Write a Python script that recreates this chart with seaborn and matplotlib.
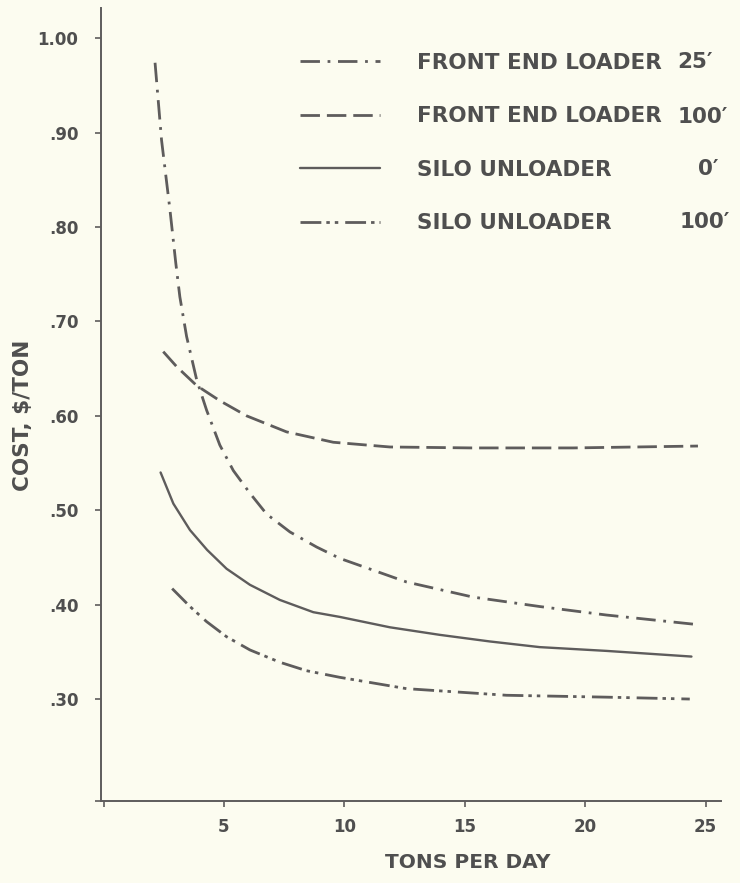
import numpy as np
import pandas as pd
import matplotlib
matplotlib.use("Agg")
import matplotlib.pyplot as plt
import seaborn as sns

# ---------------- data ----------------
fel25_x = [2.14, 2.41, 2.76, 3.00, 3.17, 3.45, 3.87, 4.28, 4.83, 5.39, 6.08, 6.77,
           7.74, 8.85, 9.81, 12.58, 15.34, 18.11, 20.88, 24.61]
fel25_y = [0.974, 0.892, 0.818, 0.762, 0.726, 0.684, 0.638, 0.606, 0.569, 0.542, 0.518, 0.496,
           0.477, 0.461, 0.449, 0.424, 0.408, 0.398, 0.389, 0.379]

fel100_x = [2.48, 3.04, 3.87, 4.83, 5.94, 7.60, 9.54, 11.89, 15.3, 19.5, 24.68]
fel100_y = [0.668, 0.652, 0.632, 0.616, 0.600, 0.583, 0.572, 0.567, 0.566, 0.566, 0.568]

su0_x = [2.37, 2.90, 3.59, 4.30, 5.11, 6.08, 7.32, 8.71, 9.81, 11.89, 13.96, 16.04,
         18.11, 20.88, 24.41]
su0_y = [0.540, 0.507, 0.479, 0.458, 0.438, 0.421, 0.405, 0.392, 0.387, 0.376, 0.368, 0.361,
         0.355, 0.351, 0.345]

su100_x = [2.85, 3.59, 4.28, 5.11, 6.08, 7.32, 8.43, 9.81, 12.58, 16.73, 20.88, 24.34]
su100_y = [0.417, 0.398, 0.382, 0.366, 0.352, 0.339, 0.330, 0.323, 0.311, 0.304, 0.302, 0.300]

series_names = ["FRONT END LOADER", "FRONT END LOADER", "SILO UNLOADER", "SILO UNLOADER"]
series_dist = ["25\u2032", "100\u2032", "0\u2032", "100\u2032"]

x_ticks = [0, 5, 10, 15, 20, 25]
x_tick_labels = ["", "5", "10", "15", "20", "25"]
y_ticks = [0.192, 0.30, 0.40, 0.50, 0.60, 0.70, 0.80, 0.90, 1.00]
y_tick_labels = ["", ".30", ".40", ".50", ".60", ".70", ".80", ".90", "1.00"]

# ---------------- style ----------------
sns.set_theme(style="ticks")
plt.rcParams["font.family"] = ["DejaVu Sans"]
plt.rcParams["font.weight"] = "bold"
plt.rcParams["lines.scale_dashes"] = False

BG = "#fcfcf0"
INK = "#5e5c5c"
TXT = "#4f4f4f"

fig = plt.figure(figsize=(7.4, 8.83), dpi=100, facecolor=BG)
ax = fig.add_axes([101 / 740, 1 - 801 / 883, (720.6 - 101) / 740, (801 - 8) / 883])
ax.set_facecolor(BG)

xs = [fel25_x, fel100_x, su0_x, su100_x]
ys = [fel25_y, fel100_y, su0_y, su100_y]
styles = [
    (0, (14, 5.5, 2, 5.5)),
    (0, (14, 5)),
    "-",
    (0, (15, 3.6, 2.5, 3.6, 2.5, 5)),
]
widths = [2.0, 2.0, 1.7, 2.0]

for i in range(4):
    df = pd.DataFrame({"tons": xs[i], "cost": ys[i]})
    sns.lineplot(data=df, x="tons", y="cost", ax=ax, color=INK, linewidth=widths[i],
                 linestyle=styles[i], estimator=None, errorbar=None, sort=False,
                 label=series_names[i])

ax.set_xlim(-0.104, 25.62)
ax.set_ylim(0.192, 1.032)
ax.set_xticks(x_ticks)
ax.set_xticklabels(x_tick_labels)
ax.set_yticks(y_ticks)
ax.set_yticklabels(y_tick_labels)

for s in ["top", "right"]:
    ax.spines[s].set_visible(False)
for s in ["left", "bottom"]:
    ax.spines[s].set_color(INK)
    ax.spines[s].set_linewidth(1.4)

ax.tick_params(axis="both", direction="out", length=4.3, width=1.2, color=INK,
               labelsize=12, labelcolor=TXT)
ax.tick_params(axis="y", pad=12)
ax.tick_params(axis="x", pad=8)

ax.set_xlabel("TONS PER DAY", fontsize=14.5, color=TXT, fontweight="bold")
ax.xaxis.set_label_coords((467.5 - 101) / 619.6, (801 - 853) / 793)
ax.set_ylabel("COST, $/TON", fontsize=15.5, color=TXT, fontweight="bold")
ax.yaxis.set_label_coords((33 - 101) / 619.6, (801 - 415) / 793)

handles, labels = ax.get_legend_handles_labels()
leg = ax.legend(handles, labels, loc="upper left",
                bbox_to_anchor=(300 / 740, 1 - 53 / 883), bbox_transform=fig.transFigure,
                frameon=False, fontsize=15.5, handlelength=3.72, handletextpad=1.72,
                labelspacing=1.55, borderpad=0, borderaxespad=0)
for t in leg.get_texts():
    t.set_color(TXT)
    t.set_fontweight("bold")

dist_x = [677, 678, 698, 680]
dist_y = [61.7, 116.7, 169, 221.7]
for d, px, py in zip(series_dist, dist_x, dist_y):
    fig.text(px / 740, 1 - py / 883, d, fontsize=15.5, color=TXT, fontweight="bold",
             ha="left", va="center")

fig.savefig("out.png", dpi=100, facecolor=BG)
